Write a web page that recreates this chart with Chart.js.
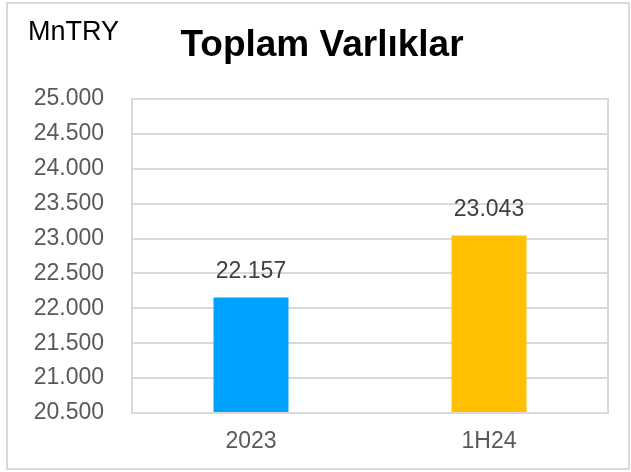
<!DOCTYPE html>
<html>
<head>
<meta charset="utf-8">
<script src="https://cdn.jsdelivr.net/npm/chart.js@4"></script>
<style>
html,body{margin:0;padding:0;background:#fff;}
#wrap{position:relative;width:631px;height:472px;}
canvas{display:block;}
</style>
</head>
<body>
<div id="wrap"><canvas id="c" width="631" height="472"></canvas></div>
<script>
const categories = ["2023", "1H24"];
const values = [22157, 23043];
const barColors = ["#00A2FF", "#FFC000"];
const titleText = "Toplam Varlıklar";
const unitText = "MnTRY";
const yMin = 20500, yMax = 25000, yStep = 500;

function fmt(v){
  const s = Math.round(v).toString();
  return s.replace(/\B(?=(\d{3})+(?!\d))/g, ".");
}

const FONT = "'Liberation Sans', Arial, sans-serif";

const decor = {
  id: 'decor',
  beforeDraw(chart){
    const ctx = chart.ctx;
    ctx.save();
    ctx.fillStyle = '#fff';
    ctx.fillRect(0,0,chart.width,chart.height);
    ctx.strokeStyle = '#d9d9d9';
    ctx.lineWidth = 2;
    ctx.strokeRect(7, 3, 622, 466);
    ctx.restore();
  },
  afterDatasetsDraw(chart){
    const ctx = chart.ctx;
    const a = chart.chartArea;
    ctx.save();
    ctx.strokeStyle = '#d9d9d9';
    ctx.lineWidth = 2;
    ctx.strokeRect(a.left, a.top, a.right - a.left, a.bottom - a.top);
    // unit
    ctx.fillStyle = '#000';
    ctx.font = "27px " + FONT;
    ctx.textAlign = 'left';
    ctx.textBaseline = 'alphabetic';
    ctx.fillText(unitText, 28, 40);
    // title
    ctx.font = "bold 37px " + FONT;
    ctx.textAlign = 'center';
    ctx.fillText(titleText, 322, 56);
    // data labels
    const meta = chart.getDatasetMeta(0);
    ctx.font = "23px " + FONT;
    ctx.fillStyle = '#404040';
    ctx.textBaseline = 'middle';
    meta.data.forEach((bar, i) => {
      ctx.fillText(fmt(values[i]), bar.x, bar.y - 26);
    });
    ctx.restore();
  }
};

new Chart(document.getElementById('c'), {
  type: 'bar',
  data: {
    labels: categories,
    datasets: [{
      data: values,
      backgroundColor: barColors,
      borderWidth: 0,
      barPercentage: 0.315,
      categoryPercentage: 1
    }]
  },
  options: {
    responsive: false,
    animation: false,
    devicePixelRatio: 1,
    layout: { padding: { top: 99, right: 23, bottom: 0, left: 0 } },
    plugins: { legend: { display: false }, title: { display: false }, tooltip: { enabled: false } },
    scales: {
      x: {
        grid: { display: false, drawTicks: false },
        border: { display: false },
        ticks: { color: '#595959', font: { family: FONT, size: 23 }, padding: 15 },
        afterFit(s){ s.height = 59; }
      },
      y: {
        min: yMin, max: yMax,
        grid: { color: '#d9d9d9', lineWidth: 2, drawTicks: false },
        border: { display: false },
        ticks: { stepSize: yStep, color: '#595959', font: { family: FONT, size: 23 }, padding: 28,
          callback: v => fmt(v) },
        afterFit(s){ s.width = 132; }
      }
    }
  },
  plugins: [decor]
});
</script>
</body>
</html>
